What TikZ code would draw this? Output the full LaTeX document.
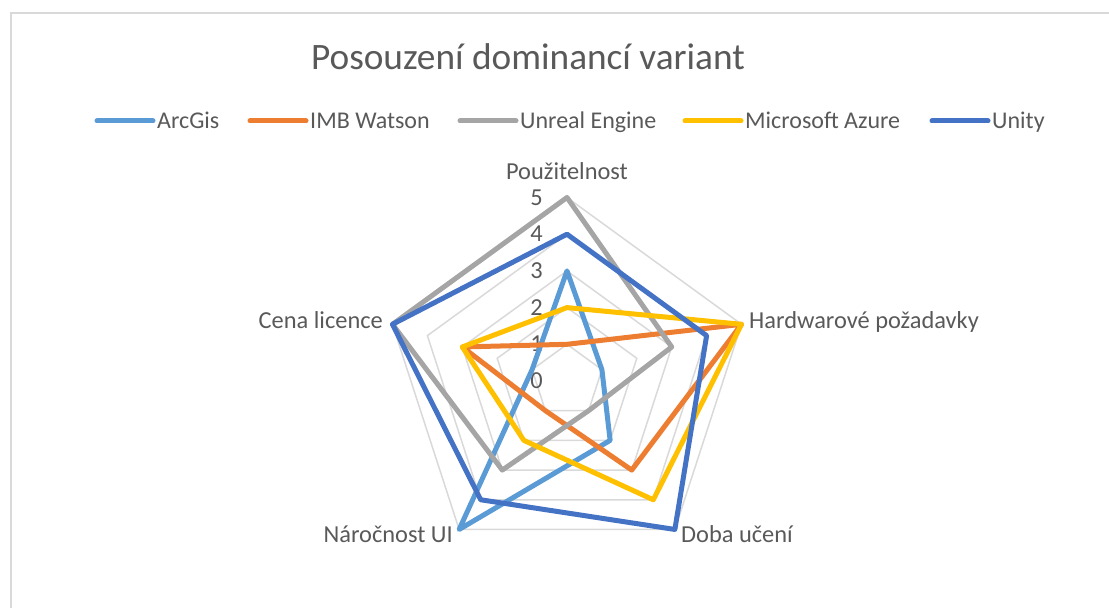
\documentclass[tikz,border=0pt]{standalone}
\usepackage{fontspec}
\setmainfont{Carlito}
\usetikzlibrary{calc}
\definecolor{txt}{HTML}{595959}
\definecolor{gridc}{HTML}{D9D9D9}
\definecolor{cArc}{HTML}{5B9BD5}
\definecolor{cIMB}{HTML}{ED7D31}
\definecolor{cUnr}{HTML}{A5A5A5}
\definecolor{cAzu}{HTML}{FFC000}
\definecolor{cUni}{HTML}{4472C4}
\begin{document}
\begin{tikzpicture}[x=1pt,y=1pt,
  lbl/.style={text=txt, font=\fontsize{24.4}{28}\selectfont, inner sep=0pt},
  leg/.style={text=txt, font=\fontsize{24}{28}\selectfont, inner sep=0pt},
  ttl/.style={text=txt, font=\fontsize{37.3}{42}\selectfont, inner sep=0pt},
  series/.style={line width=5pt, line join=round, line cap=round},
  gridline/.style={draw=gridc, line width=1.5pt},
  legline/.style={line width=5pt, line cap=round}]
\path[use as bounding box] (0,0) rectangle (1109,608);
\draw[draw=gridc, line width=1.5pt] (11,0) -- (11,595) -- (1109,595);
\node[ttl, anchor=base] (title) at (528,538) {Posouzení dominancí variant};
% legend
\foreach \i/\x/\c/\t in {1/97/cArc/ArcGis, 2/250/cIMB/IMB Watson, 3/460/cUnr/Unreal Engine, 4/685/cAzu/Microsoft Azure, 5/932/cUni/Unity}{
  \coordinate (l\i a) at (\x,487);
  \coordinate (l\i b) at (\x+56,487);
  \draw[legline, \c] (l\i a) -- (l\i b);
  \node[leg, anchor=base west] (lt\i) at ($(l\i b)+(4,-7.6)$) {\t};
}
\coordinate (C) at (567,227);
\def\u{36.7}
\begin{scope}[shift={(C)}]
  \foreach \k in {1,...,5}{
    \draw[gridline] (90:\k*\u) -- (18:\k*\u) -- (-54:\k*\u) -- (-126:\k*\u) -- (162:\k*\u) -- cycle;
  }
  \foreach \k in {0,...,5}{
    \node[lbl, anchor=base east] (v\k) at (-24,\k*\u-7.7) {\k};
  }
  % data points
  \foreach \s/\a/\b/\c/\d/\e in {arc/3/1/2/5/1, imb/1/5/3/1/3, unr/5/3/1/3/5, azu/2/5/4/2/3, uni/4/4/5/4/5}{
    \coordinate (\s1) at (90:\a*\u);
    \coordinate (\s2) at (18:\b*\u);
    \coordinate (\s3) at (-54:\c*\u);
    \coordinate (\s4) at (-126:\d*\u);
    \coordinate (\s5) at (162:\e*\u);
  }
\end{scope}
\draw[series, cArc] (arc1) -- (arc2) -- (arc3) -- (arc4) -- (arc5) -- cycle;
\draw[series, cIMB] (imb1) -- (imb2) -- (imb3) -- (imb4) -- (imb5) -- cycle;
\draw[series, cUnr] (unr1) -- (unr2) -- (unr3) -- (unr4) -- (unr5) -- cycle;
\draw[series, cAzu] (azu1) -- (azu2) -- (azu3) -- (azu4) -- (azu5) -- cycle;
\draw[series, cUni] (uni1) -- (uni2) -- (uni3) -- (uni4) -- (uni5) -- cycle;
% axis labels
\node[lbl, anchor=base] (ax1) at (567,428.5) {Použitelnost};
\node[lbl, anchor=base west] (ax2) at (749,279.5) {Hardwarové požadavky};
\node[lbl, anchor=base west] (ax3) at (681,65.5) {Doba učení};
\node[lbl, anchor=base east] (ax4) at (453,65.5) {Náročnost UI};
\node[lbl, anchor=base east] (ax5) at (383,279.5) {Cena licence};
\end{tikzpicture}
\end{document}
